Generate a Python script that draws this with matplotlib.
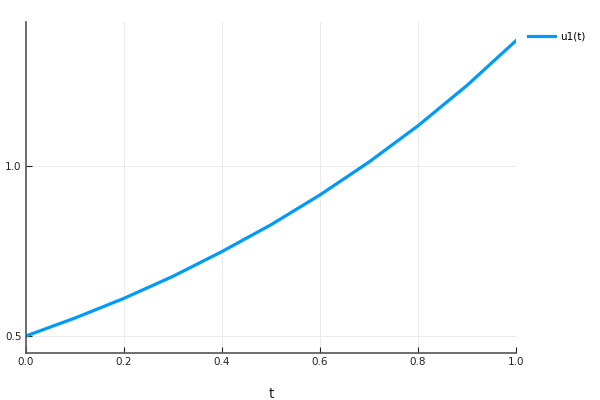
import matplotlib
matplotlib.use("Agg")
import matplotlib.pyplot as plt

t = [0.0, 0.1, 0.2, 0.3, 0.4, 0.5, 0.6, 0.7, 0.8, 0.9, 1.0]
u1 = [0.5, 0.553, 0.611, 0.676, 0.749, 0.828, 0.916, 1.013, 1.120, 1.239, 1.371]

fig = plt.figure(figsize=(6, 4), dpi=100)
ax = fig.add_axes([0.043, 0.1175, 0.817, 0.8275])

ax.plot(t, u1, color="#009AFA", linewidth=2.3, label="u1(t)")

ax.set_xlim(0, 1)
ax.set_ylim(0.45, 1.426)
ax.set_xticks([0.0, 0.2, 0.4, 0.6, 0.8, 1.0])
ax.set_yticks([0.5, 1.0])
ax.grid(True, color="#ebebeb", linewidth=0.7)
ax.set_axisbelow(True)

for s in ["top", "right"]:
    ax.spines[s].set_visible(False)
for s in ["left", "bottom"]:
    ax.spines[s].set_color("#555555")
    ax.spines[s].set_linewidth(1.2)

ax.tick_params(direction="in", length=4, width=0.8, labelsize=7.5, colors="#222222", pad=3)
ax.set_xlabel("t", fontsize=10, color="#222222", labelpad=14)

ax.legend(loc="upper left", bbox_to_anchor=(1.005, 1.0), frameon=False,
          fontsize=7.5, handlelength=2.6, handletextpad=0.5)

fig.savefig("out.png", dpi=100)
